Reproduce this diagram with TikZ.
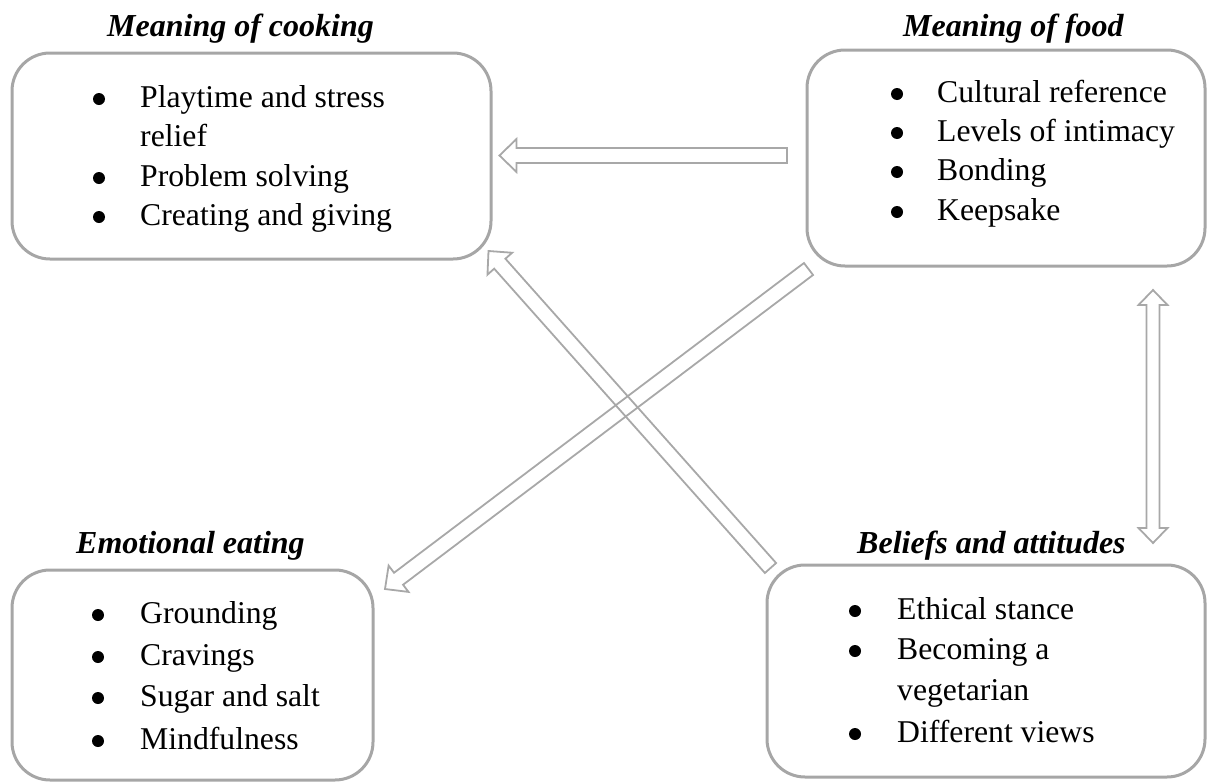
\documentclass[tikz,border=0pt]{standalone}
\usepackage{fontspec}
\setmainfont{Liberation Serif}
\usetikzlibrary{calc}
\definecolor{framegray}{RGB}{166,166,166}
\definecolor{arrowgray}{RGB}{168,168,168}

% hollow block arrow from #1 to #2 (head at #2); #3 = prefix for helper points
\newcommand{\blkarrow}[3]{%
  \coordinate (#3h) at ($(#2)!17pt!(#1)$);
  \draw[arrowline] ($(#1)!7.5pt!90:(#2)$) -- ($(#3h)!7.5pt!90:(#2)$)
    -- ($(#3h)!16.5pt!90:(#2)$) -- (#2) -- ($(#3h)!16.5pt!-90:(#2)$)
    -- ($(#3h)!7.5pt!-90:(#2)$) -- ($(#1)!7.5pt!-90:(#2)$) -- cycle;
}
% hollow block arrow with heads at both ends
\newcommand{\dblarrow}[3]{%
  \coordinate (#3a) at ($(#1)!15pt!(#2)$);
  \coordinate (#3b) at ($(#2)!15pt!(#1)$);
  \draw[arrowline] (#1) -- ($(#3a)!14.5pt!90:(#2)$) -- ($(#3a)!6.5pt!90:(#2)$)
    -- ($(#3b)!6.5pt!-90:(#1)$) -- ($(#3b)!14.5pt!-90:(#1)$) -- (#2)
    -- ($(#3b)!14.5pt!90:(#1)$) -- ($(#3b)!6.5pt!90:(#1)$)
    -- ($(#3a)!6.5pt!-90:(#2)$) -- ($(#3a)!14.5pt!-90:(#2)$) -- cycle;
}

\begin{document}
\begin{tikzpicture}[x=1pt,y=-1pt,
  frame/.style={draw=framegray, line width=3pt, rounded corners=38pt,
    inner sep=0pt, outer sep=0pt, anchor=north west},
  heading/.style={anchor=base west, inner sep=0pt,
    font=\fontsize{32}{38}\selectfont\bfseries\itshape},
  entry/.style={anchor=base west, inner sep=0pt, font=\fontsize{31.7}{40}\selectfont},
  dot/.style={circle, fill=black, minimum size=12pt, inner sep=0pt, yshift=8pt},
  arrowline/.style={draw=arrowgray, line width=1.8pt, line join=miter}
]
\useasboundingbox (0,0) rectangle (1208,782);

% ---------- frames ----------
\node[frame, minimum width=479pt, minimum height=206pt] (cook) at (12,53) {};
\node[frame, minimum width=398pt, minimum height=216pt] (food) at (807,50) {};
\node[frame, minimum width=361pt, minimum height=210pt] (emo) at (12,570) {};
\node[frame, minimum width=438pt, minimum height=212pt] (bel) at (767,565) {};

% ---------- headings ----------
\node[heading] (tcook) at (107,36) {Meaning of cooking};
\node[heading] (tfood) at (903,36) {Meaning of food};
\node[heading] (temo) at (76,553) {Emotional eating};
\node[heading] (tbel) at (857,553) {Beliefs and attitudes};

% ---------- Meaning of cooking ----------
\node[dot] (cb1) at (99,107) {};
\node[entry] (c1) at (140,107) {Playtime and stress};
\node[entry] (c1b) at (140,146) {relief};
\node[dot] (cb2) at (99,186) {};
\node[entry] (c2) at (140,186) {Problem solving};
\node[dot] (cb3) at (99,225) {};
\node[entry] (c3) at (140,225) {Creating and giving};

% ---------- Meaning of food ----------
\node[dot] (fb1) at (897,102) {};
\node[entry] (f1) at (937,102) {Cultural reference};
\node[dot] (fb2) at (897,141) {};
\node[entry] (f2) at (937,141) {Levels of intimacy};
\node[dot] (fb3) at (897,180) {};
\node[entry] (f3) at (937,180) {Bonding};
\node[dot] (fb4) at (897,220) {};
\node[entry] (f4) at (937,220) {Keepsake};

% ---------- Emotional eating ----------
\node[dot] (eb1) at (98,623) {};
\node[entry] (e1) at (140,623) {Grounding};
\node[dot] (eb2) at (98,665) {};
\node[entry] (e2) at (140,665) {Cravings};
\node[dot] (eb3) at (98,706) {};
\node[entry] (e3) at (140,706) {Sugar and salt};
\node[dot] (eb4) at (98,749) {};
\node[entry] (e4) at (140,749) {Mindfulness};

% ---------- Beliefs and attitudes ----------
\node[dot] (bb1) at (855,619) {};
\node[entry] (b1) at (897,619) {Ethical stance};
\node[dot] (bb2) at (855,659) {};
\node[entry] (b2) at (897,659) {Becoming a};
\node[entry] (b2b) at (897,700) {vegetarian};
\node[dot] (bb3) at (855,742) {};
\node[entry] (b3) at (897,742) {Different views};

% ---------- arrows ----------
\coordinate (h1s) at (787,155.5);
\coordinate (h1e) at (499.5,155.5);
\coordinate (v1a) at (1153,290);
\coordinate (v1b) at (1153,543);
\coordinate (d1s) at (808.5,269);
\coordinate (d1e) at (385,589);
\coordinate (d2s) at (770.5,568);
\coordinate (d2e) at (488.5,251);

\blkarrow{h1s}{h1e}{ah}
\dblarrow{v1a}{v1b}{av}
\blkarrow{d1s}{d1e}{ad}
\blkarrow{d2s}{d2e}{ae}
\end{tikzpicture}
\end{document}
